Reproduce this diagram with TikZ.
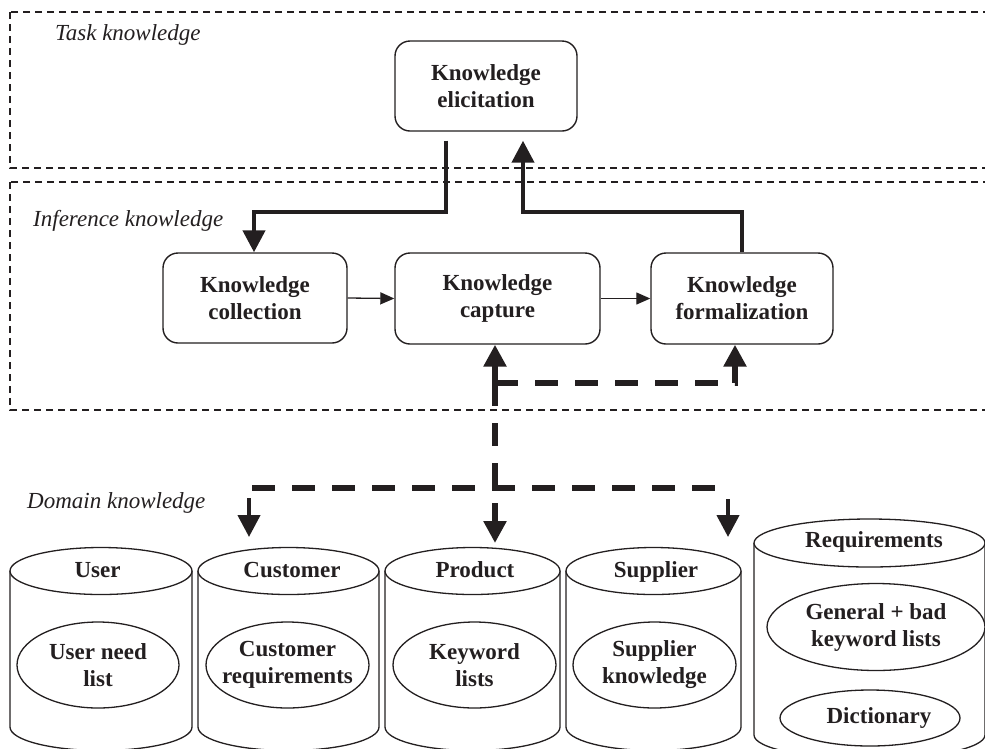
\documentclass[tikz,border=0pt]{standalone}
\usepackage{fontspec}
\setmainfont{Liberation Serif}
\usetikzlibrary{arrows.meta,shapes.geometric}
\definecolor{ink}{RGB}{35,31,32}
\tikzset{
  zone/.style={draw=ink, line width=1.3pt, dash pattern=on 7pt off 5pt},
  zonelbl/.style={font=\itshape\fontsize{23}{27}\selectfont, text=ink, inner sep=0pt, anchor=base west},
  proc/.style={draw=ink, line width=1.4pt, rounded corners=15pt, fill=white, align=center,
    font=\bfseries\fontsize{23}{27}\selectfont, text=ink, inner sep=0pt},
  lbl/.style={font=\bfseries\fontsize{23}{27}\selectfont, text=ink, inner sep=0pt, align=center},
  ellbox/.style={draw=ink, line width=1.3pt, ellipse, inner sep=0pt, fill=white},
  thinarr/.style={draw=ink, line width=1.3pt, -{Triangle[length=14pt,width=12pt]}},
  thickarr/.style={draw=ink, line width=4.3pt, -{Triangle[length=22pt,width=22pt]}},
  thickline/.style={draw=ink, line width=4.3pt},
  thickdash/.style={draw=ink, line width=6pt, dash pattern=on 23pt off 17pt},
  thickdasharr/.style={thickdash, -{Triangle[length=22pt,width=22pt]}},
}
\newcommand\mycyl[5]{% cx, rx, ytop, ybot, ry
  \path[draw=ink, fill=white, line width=1.3pt] (#1-#2,#3) -- (#1-#2,#4)
     arc[start angle=180, end angle=360, x radius=#2pt, y radius=#5pt] -- (#1+#2,#3);
  \draw[draw=ink, fill=white, line width=1.3pt] (#1,#3) ellipse [x radius=#2pt, y radius=#5pt];
}
\begin{document}
\begin{tikzpicture}[x=1pt,y=-1pt]
\useasboundingbox (0,0) rectangle (985,748);
\clip (0,0) rectangle (985,748);

% zones
\draw[zone] (10,12) rectangle (1010,168);
\draw[zone] (10,182) rectangle (1010,410);
\node[zonelbl] (tk) at (55,40) {Task knowledge};
\node[zonelbl] (ik) at (33,226) {Inference knowledge};
\node[zonelbl] (dk) at (27,508) {Domain knowledge};

% process boxes
\node[proc, minimum width=182pt, minimum height=90pt] (elic) at (486,86) {Knowledge\\elicitation};
\node[proc, minimum width=184pt, minimum height=90pt] (coll) at (255,298) {Knowledge\\collection};
\node[proc, minimum width=205pt, minimum height=91pt] (capt) at (497.5,298.5) {Knowledge\\capture};
\node[proc, minimum width=182pt, minimum height=91pt] (form) at (742,298.5) {Knowledge\\formalization};

% thin arrows
\draw[thinarr] (coll.east) -- (capt.west);
\draw[thinarr] (capt.east) -- (form.west);

% thick solid loop
\coordinate (e1) at (446,212);
\coordinate (e2) at (254,212);
\coordinate (f1) at (742,212);
\coordinate (f2) at (523,212);
\draw[thickarr, shorten <=9pt, line join=miter] (elic.south -| e1) -- (e1) -- (e2) -- (coll.north -| e2);
\draw[thickarr, shorten >=9pt, line join=miter] (form.north -| f1) -- (f1) -- (f2) -- (elic.south -| f2);

% cylinders
\mycyl{101}{91}{571}{727}{23.5}
\mycyl{288.5}{90.5}{571}{727}{23.5}
\mycyl{472.5}{87.5}{571}{727}{23.5}
\mycyl{653.5}{87.5}{571}{727}{23.5}
\mycyl{869.5}{115.5}{543}{735}{24}

\node[lbl, anchor=base] (user) at (97.5,577) {User};
\node[lbl, anchor=base] (cust) at (292,577) {Customer};
\node[lbl, anchor=base] (prod) at (475,577) {Product};
\node[lbl, anchor=base] (supp) at (656,577) {Supplier};
\node[lbl, anchor=base] (reqs) at (874,547) {Requirements};

\node[ellbox, minimum width=162pt, minimum height=86pt, label={[lbl]center:User need\\list}] (unl) at (98,665) {};
\node[ellbox, minimum width=163pt, minimum height=86pt, label={[lbl]center:Customer\\requirements}] (creq) at (287.5,665) {};
\node[ellbox, minimum width=163pt, minimum height=86pt, label={[lbl]center:Keyword\\lists}] (kwl) at (474.5,665) {};
\node[ellbox, minimum width=163pt, minimum height=86pt, label={[lbl]center:Supplier\\knowledge}] (sk) at (654.5,665) {};
\node[ellbox, minimum width=218pt, minimum height=87pt, label={[lbl]center:General + bad\\keyword lists}] (gbk) at (876,627) {};
\node[ellbox, minimum width=180pt, minimum height=56pt] (dict) at (870,718) {};
\node[lbl] (dictt) at (879,718) {Dictionary};

% dashed network
\coordinate (d1) at (495,383);
\coordinate (d2) at (735,383);
\coordinate (d4) at (252,488);
\coordinate (d5) at (727,488);
\coordinate (pt) at (495,543);
\draw[thickdasharr] (d1) -- (capt.south -| d1);
\draw[thickdasharr] (d1) -- (d2) -- (form.south -| d2);
\draw[thickdasharr] (d1) -- (pt);
\draw[thickdash] (d4) -- (d5);
\coordinate (a1) at (249,498);
\coordinate (a2) at (249,537);
\coordinate (b1) at (728,499);
\coordinate (b2) at (728,537);
\draw[thickarr] (a1) -- (a2);
\draw[thickarr] (b1) -- (b2);
\end{tikzpicture}
\end{document}
